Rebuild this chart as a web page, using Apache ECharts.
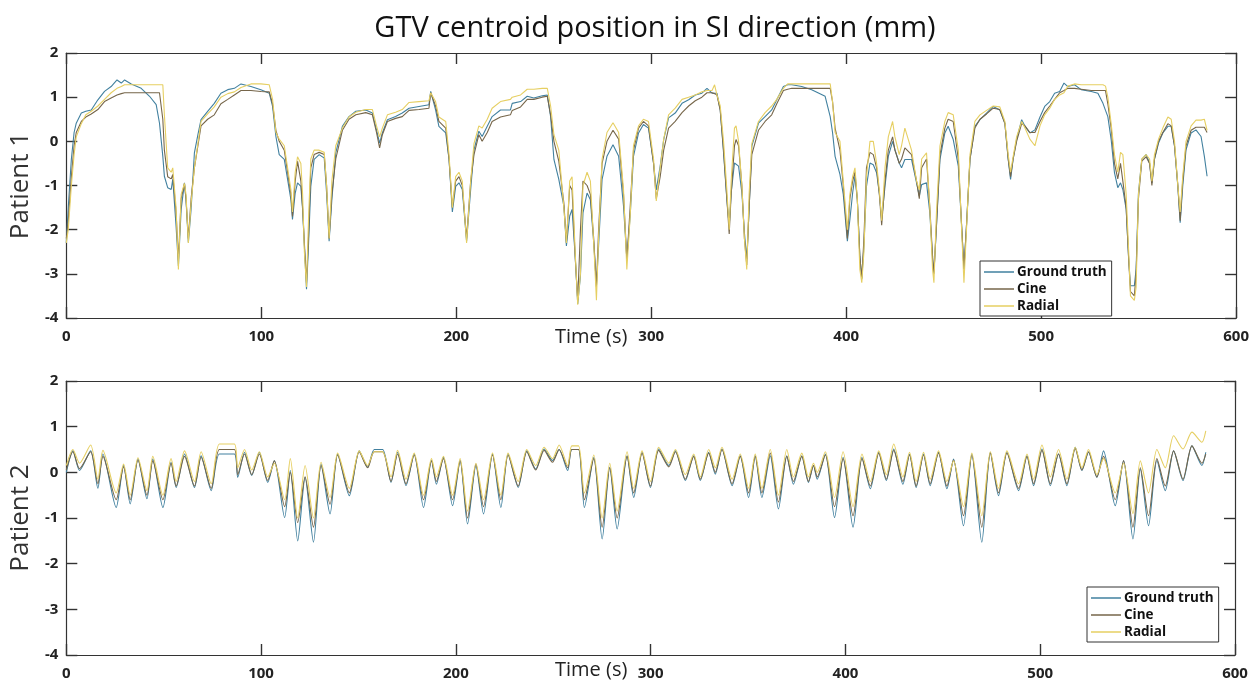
<!DOCTYPE html>
<html>
<head>
<meta charset="utf-8">
<script src="https://cdn.jsdelivr.net/npm/echarts@6/dist/echarts.min.js"></script>
<style>
  html, body { margin: 0; padding: 0; background: #fff; }
  #chart { width: 1252px; height: 683px; }
</style>
</head>
<body>
<div id="chart"></div>
<script>
// Patient 1 (s, mm)
const p1Time = [
  0, 1, 2.6, 4, 5.1, 7.7, 10, 12.8, 16.2, 19.6,
  23, 26, 28.2, 29.9, 33.3, 38.4, 42.7, 46.1, 47.8, 49.5,
  50.3, 52, 53.8, 54.6, 56.3, 57.5, 58.9, 60.6, 61.4, 62.6,
  64, 65.7, 67.5, 69.1, 72.5, 75.9, 79.3, 82.8, 86.2, 89.6,
  94.7, 99.8, 104.1, 105.8, 107.5, 109.2, 111.8, 113.5, 115.2, 116,
  117.4, 118.6, 120.3, 121.2, 122.1, 123.2, 124.2, 125.4, 127.1, 129.7,
  132.3, 133.5, 134.8, 136.2, 138.2, 141.6, 145, 148.5, 153.6, 157,
  159.1, 160.7, 162.1, 164.7, 168.9, 172.3, 175.8, 180.9, 186, 186.9,
  189.4, 191.1, 194.6, 196.3, 198, 199.7, 201.4, 203.1, 205.3, 207.4,
  209.1, 211.6, 213.3, 215.9, 218.4, 222.7, 227.8, 228.7, 233, 236.4,
  239.8, 244.1, 246.7, 248.4, 250.1, 252.6, 255.2, 256.5, 258.2, 259.4,
  261.1, 262.3, 263.7, 265, 267.1, 268.8, 270.5, 271.9, 273, 274.8,
  277.3, 280.4, 283.3, 285.8, 287.5, 289.2, 290.9, 293.5, 296, 298.6,
  301.2, 302.6, 304.6, 306.4, 308.9, 312.3, 315.8, 319.2, 322.6, 326,
  328.6, 331.2, 332.5, 333.7, 335.4, 337.1, 338.8, 340, 341, 342.7,
  343.5, 344.8, 346.5, 347.8, 349, 350.2, 351.6, 355, 358.4, 361.8,
  364.4, 367.8, 370, 372.1, 377.2, 382.3, 389.2, 391.8, 393, 394.3,
  396.8, 398.5, 400.6, 401.9, 403.3, 404.5, 405.7, 407, 408, 409.1,
  410.4, 412.2, 413.9, 415.6, 417, 418.2, 419.9, 421.6, 423.8, 425,
  427.2, 428.4, 430.1, 433.5, 436.1, 437.5, 438.7, 441.2, 442.9, 444.3,
  445, 446.3, 448.1, 450.6, 452.3, 454.9, 457.5, 459.2, 460.4, 461.7,
  463.5, 466, 468.6, 472, 475.4, 478.8, 481.4, 483.1, 484.3, 485.6,
  487.4, 490, 491.7, 494.2, 496.8, 499.4, 501.8, 504.4, 506.9, 509.5,
  511.7, 513.7, 517.1, 520.5, 525.7, 529.1, 531.7, 533, 534.2, 535.9,
  537.6, 539.3, 540.7, 541.9, 543.6, 544.9, 545.8, 547.8, 548.7, 549.9,
  551.6, 553.8, 555.6, 556.8, 558.1, 560.2, 562.4, 565, 566.7, 568.4,
  570.1, 571.3, 572.6, 574.3, 576.9, 579.4, 582, 583.7, 585.1
];
const p1Truth = [
  -2.3, -1.5, -0.4, 0.2, 0.41, 0.64, 0.68, 0.71, 0.94, 1.13,
  1.24, 1.39, 1.32, 1.39, 1.3, 1.2, 1.02, 0.83, 0.41, -0.34,
  -0.79, -1.05, -1.09, -0.86, -1.92, -2.82, -1.54, -0.94, -1.32, -2.29,
  -1.54, -0.26, 0.15, 0.49, 0.68, 0.86, 1.09, 1.17, 1.2, 1.3,
  1.24, 1.17, 1.09, 0.79, 0.11, -0.3, -0.41, -0.86, -1.32, -1.77,
  -1.17, -0.94, -1.02, -1.54, -2.37, -3.35, -2.37, -1.02, -0.41, -0.3,
  -0.38, -1.17, -2.26, -1.32, -0.26, 0.34, 0.56, 0.68, 0.71, 0.64,
  0.26, -0.04, 0.19, 0.49, 0.56, 0.64, 0.75, 0.79, 0.83, 1.13,
  0.71, 0.34, 0.19, -0.41, -1.6, -1.02, -0.94, -1.09, -2.26, -1.09,
  -0.19, 0.23, 0.11, 0.34, 0.56, 0.71, 0.71, 0.86, 0.9, 1.02,
  0.98, 1.03, 1.05, 0.56, -0.41, -0.86, -1.47, -2.37, -1.69, -1.54,
  -2.67, -3.68, -3.05, -1.62, -1.17, -1.32, -2.29, -3.27, -2.37, -0.86,
  -0.34, -0.08, -0.34, -1.47, -2.67, -1.69, -0.34, 0.19, 0.38, 0.3,
  -0.49, -1.1, -0.56, 0.04, 0.53, 0.64, 0.86, 0.94, 1.05, 1.09,
  1.2, 1.09, 1.09, 1.09, 0.71, -0.26, -1.32, -1.92, -1.17, -0.49,
  -0.5, -0.56, -1.17, -2.07, -2.67, -1.54, -0.11, 0.41, 0.56, 0.71,
  0.94, 1.24, 1.28, 1.28, 1.24, 1.17, 1.02, 0.56, 0.2, -0.34,
  -0.75, -1.2, -2.26, -1.77, -1.17, -0.79, -1.32, -2.59, -3.12, -2.37,
  -1.02, -0.49, -0.53, -0.71, -1.17, -1.77, -1.02, -0.34, 0.0, -0.19,
  -0.49, -0.6, -0.41, -0.41, -0.94, -1.24, -0.98, -0.94, -1.62, -2.67,
  -2.97, -1.92, -0.41, 0.19, 0.34, 0.04, -0.56, -1.92, -2.89, -1.92,
  -0.41, 0.34, 0.49, 0.64, 0.79, 0.71, 0.41, -0.41, -0.86, -0.41,
  0.04, 0.49, 0.34, 0.19, 0.26, 0.55, 0.79, 0.9, 1.09, 1.13,
  1.32, 1.24, 1.28, 1.17, 1.13, 1.09, 0.86, 0.7, 0.56, 0.04,
  -0.71, -1.05, -0.94, -1.09, -1.54, -2.67, -3.27, -3.27, -2.89, -1.17,
  -0.41, -0.3, -0.49, -0.94, -0.41, -0.04, 0.19, 0.34, 0.34, -0.11,
  -1.02, -1.84, -1.02, -0.19, 0.19, 0.26, 0.11, -0.34, -0.79
];
const p1Cine = [
  -2.2, -1.8, -0.8, -0.1, 0.2, 0.45, 0.55, 0.62, 0.72, 0.9,
  0.98, 1.05, 1.08, 1.1, 1.1, 1.1, 1.1, 1.1, 1.1, 0.5,
  -0.2, -0.8, -0.85, -0.75, -1.6, -2.7, -1.3, -0.95, -1.3, -2.2,
  -1.3, -0.6, -0.1, 0.35, 0.5, 0.6, 0.85, 0.95, 1.05, 1.15,
  1.15, 1.13, 1.12, 0.85, 0.25, 0.0, -0.2, -0.7, -1.2, -1.7,
  -0.9, -0.45, -0.9, -1.5, -2.3, -3.2, -2.2, -0.6, -0.3, -0.25,
  -0.3, -1.0, -2.2, -1.2, -0.4, 0.25, 0.5, 0.6, 0.65, 0.6,
  0.2, -0.15, 0.15, 0.45, 0.52, 0.56, 0.7, 0.72, 0.75, 1.1,
  0.8, 0.45, 0.3, -0.4, -1.5, -0.9, -0.8, -1.0, -2.2, -0.9,
  -0.3, 0.15, 0.0, 0.2, 0.45, 0.55, 0.6, 0.7, 0.78, 0.95,
  0.95, 1.0, 1.02, 0.6, 0.0, -0.45, -1.4, -2.3, -1.0, -1.1,
  -2.7, -3.6, -2.0, -0.9, -1.0, -1.2, -2.2, -3.3, -2.0, -0.5,
  0.0, 0.25, 0.05, -1.2, -2.7, -1.5, -0.2, 0.3, 0.45, 0.35,
  -0.5, -1.3, -0.8, -0.2, 0.3, 0.45, 0.65, 0.8, 0.92, 1.0,
  1.1, 1.1, 1.08, 1.05, 0.7, -0.2, -1.3, -2.1, -1.2, -0.1,
  0.04, -0.1, -1.0, -2.2, -2.8, -1.5, -0.3, 0.25, 0.45, 0.6,
  0.85, 1.15, 1.18, 1.2, 1.2, 1.2, 1.2, 1.2, 0.9, 0.3,
  -0.2, -1.0, -2.2, -1.3, -0.9, -0.7, -1.3, -2.6, -3.1, -2.2,
  -0.6, -0.25, -0.3, -0.6, -1.2, -1.9, -0.9, -0.2, 0.1, -0.2,
  -0.5, -0.4, -0.15, -0.3, -0.9, -1.3, -0.6, -0.4, -1.5, -2.6,
  -3.0, -1.9, -0.3, 0.3, 0.5, 0.45, -0.4, -1.9, -2.9, -1.9,
  -0.4, 0.3, 0.5, 0.62, 0.75, 0.72, 0.4, -0.4, -0.8, -0.4,
  0.0, 0.4, 0.35, 0.2, 0.2, 0.45, 0.65, 0.8, 0.95, 1.1,
  1.15, 1.2, 1.2, 1.18, 1.15, 1.15, 1.15, 1.15, 0.85, 0.3,
  -0.5, -0.85, -0.5, -0.9, -1.5, -2.7, -3.4, -3.5, -3.0, -1.3,
  -0.45, -0.35, -0.5, -1.0, -0.4, 0.0, 0.2, 0.4, 0.35, -0.1,
  -1.0, -1.8, -0.9, -0.1, 0.25, 0.32, 0.32, 0.32, 0.2
];
const p1Radial = [
  -2.3, -2.0, -1.0, -0.3, 0.1, 0.4, 0.6, 0.68, 0.8, 0.95,
  1.1, 1.2, 1.24, 1.28, 1.28, 1.28, 1.28, 1.28, 1.28, 1.28,
  0.6, -0.6, -0.7, -0.6, -1.5, -2.9, -1.2, -0.95, -1.2, -2.3,
  -1.4, -0.6, -0.05, 0.45, 0.62, 0.78, 1.0, 1.08, 1.12, 1.22,
  1.3, 1.3, 1.28, 0.95, 0.2, 0.05, -0.1, -0.6, -1.1, -1.6,
  -0.7, -0.35, -0.5, -1.2, -2.5, -3.3, -1.8, -0.4, -0.2, -0.2,
  -0.25, -1.0, -2.2, -0.9, -0.1, 0.3, 0.55, 0.66, 0.72, 0.72,
  0.35, 0.1, 0.3, 0.6, 0.66, 0.72, 0.88, 0.9, 0.92, 1.1,
  0.9, 0.55, 0.45, -0.3, -1.5, -0.8, -0.7, -0.9, -2.3, -0.9,
  -0.05, 0.35, 0.3, 0.5, 0.75, 0.9, 0.95, 1.0, 1.05, 1.18,
  1.18, 1.2, 1.2, 0.8, 0.15, -0.2, -1.5, -2.3, -0.9, -0.8,
  -2.6, -3.7, -3.0, -1.0, -0.7, -0.9, -2.3, -3.6, -2.2, -0.4,
  0.2, 0.42, 0.2, -1.1, -2.9, -1.7, -0.1, 0.35, 0.5, 0.45,
  -0.4, -1.35, -0.6, 0.05, 0.6, 0.75, 0.95, 1.0, 1.05, 1.12,
  1.15, 1.15, 1.28, 1.05, 0.8, 0.0, -1.1, -2.0, -0.9, 0.3,
  0.35, 0.0, -1.0, -2.2, -2.9, -1.2, -0.05, 0.45, 0.65, 0.8,
  0.95, 1.2, 1.3, 1.3, 1.3, 1.3, 1.3, 1.3, 0.9, 0.2,
  0.0, -0.9, -2.0, -1.2, -0.8, -0.6, -1.3, -2.9, -3.2, -2.5,
  -0.8, 0.0, 0.0, -0.5, -1.1, -1.8, -0.6, 0.1, 0.45, 0.1,
  -0.3, -0.1, 0.3, -0.2, -0.9, -1.1, -0.4, -0.26, -1.5, -2.9,
  -3.2, -1.6, -0.1, 0.45, 0.65, 0.6, -0.2, -2.0, -3.2, -2.0,
  -0.3, 0.45, 0.6, 0.7, 0.8, 0.78, 0.45, -0.3, -0.7, -0.35,
  0.1, 0.45, 0.3, 0.05, -0.1, 0.35, 0.6, 0.75, 0.95, 1.05,
  1.1, 1.25, 1.3, 1.28, 1.28, 1.28, 1.28, 1.25, 1.0, 0.4,
  -0.3, -0.7, -0.25, -0.3, -1.2, -2.5, -3.5, -3.6, -3.3, -1.2,
  -0.4, -0.3, -0.4, -0.9, -0.3, 0.05, 0.3, 0.55, 0.5, 0.0,
  -1.0, -1.6, -0.8, 0.0, 0.35, 0.48, 0.48, 0.5, 0.25
];

// Patient 2 (s, mm)
const p2Time = [
  0, 3.4, 6.8, 12.5, 16.2, 18.8, 25.6, 29.4, 32.8, 36.8,
  41.4, 44.4, 49.6, 53.8, 56.4, 60.7, 65.8, 69.2, 74.4, 78.6,
  86.3, 88, 91.5, 95.2, 99.1, 103.4, 106.8, 112.1, 115, 118.8,
  122.6, 126.9, 130.8, 135.4, 139.3, 145.3, 150.4, 154.7, 158.1, 162.4,
  166.7, 170.1, 174.4, 178.6, 183.4, 187.5, 190, 193.6, 198.3, 202.2,
  206, 210.3, 214.2, 218.8, 223.1, 226.8, 232, 236.4, 241, 245.3,
  249.6, 253, 257.4, 259.5, 263, 266, 270.8, 275.1, 279, 282.8,
  287.9, 291.3, 295.6, 299.9, 304.1, 309.3, 312.7, 317.8, 322.1, 325.5,
  329.8, 333.2, 336.6, 341.8, 346, 350.3, 353.7, 357.1, 361.4, 365.6,
  369.9, 373.3, 377.6, 381, 383.6, 385.5, 389.7, 394.4, 398.8, 403.9,
  408.5, 412.8, 417.1, 421, 424.8, 429.5, 432.9, 436.3, 440.1, 443.5,
  447.8, 452.1, 455.5, 460.6, 464.9, 470, 474.4, 478.6, 482.9, 488.9,
  493.2, 496.6, 500.9, 505.2, 509.4, 513.7, 518, 521.4, 524.8, 529.1,
  532.5, 538.5, 542.8, 547.6, 551.4, 555.6, 559.9, 564.2, 568.5, 573.3,
  577.9, 583, 585
];
const p2Truth = [
  0.0, 0.47, 0.04, 0.47, -0.35, 0.4, -0.77, 0.15, -0.69, 0.29,
  -0.58, 0.29, -0.77, 0.22, -0.33, 0.4, -0.33, 0.36, -0.4, 0.4,
  0.4, -0.11, 0.44, -0.07, 0.44, -0.22, 0.26, -0.99, 0.04, -1.5,
  -0.11, -1.53, 0.18, -0.91, 0.4, -0.51, 0.47, 0.11, 0.5, 0.5,
  -0.22, 0.44, -0.29, 0.4, -0.77, 0.26, -0.26, 0.33, -0.73, 0.26,
  -1.13, 0.15, -0.91, 0.4, -0.77, 0.4, -0.33, 0.47, 0.07, 0.51,
  0.26, 0.5, 0.04, 0.5, 0.5, -0.77, 0.33, -1.46, 0.11, -1.24,
  0.36, -0.55, 0.44, -0.33, 0.51, 0.15, 0.47, -0.18, 0.36, -0.18,
  0.44, -0.04, 0.51, -0.29, 0.36, -0.55, 0.36, -0.55, 0.36, -0.8,
  0.36, -0.26, 0.36, -0.22, 0.15, -0.15, 0.4, -0.99, 0.33, -1.2,
  0.33, -0.36, 0.44, -0.18, 0.51, -0.26, 0.4, -0.33, 0.4, -0.29,
  0.44, -0.36, 0.29, -1.17, 0.4, -1.53, 0.44, -0.51, 0.44, -0.4,
  0.36, -0.29, 0.51, -0.29, 0.4, -0.29, 0.55, 0.04, 0.44, -0.11,
  0.47, -0.73, 0.26, -1.46, 0.07, -1.17, 0.26, -0.4, 0.47, -0.18,
  0.58, 0.15, 0.44
];
const p2Cine = [
  0.05, 0.45, 0.08, 0.45, -0.25, 0.35, -0.6, 0.12, -0.6, 0.27,
  -0.5, 0.25, -0.6, 0.2, -0.3, 0.35, -0.3, 0.33, -0.35, 0.5,
  0.5, -0.05, 0.4, -0.05, 0.4, -0.18, 0.25, -0.75, 0.0, -1.1,
  -0.1, -1.2, 0.15, -0.7, 0.38, -0.45, 0.45, 0.1, 0.45, 0.45,
  -0.2, 0.4, -0.25, 0.38, -0.6, 0.25, -0.2, 0.3, -0.6, 0.25,
  -1.0, 0.18, -0.75, 0.38, -0.6, 0.38, -0.3, 0.45, 0.05, 0.48,
  0.22, 0.5, 0.1, 0.5, 0.5, -0.6, 0.3, -1.2, 0.1, -1.0,
  0.35, -0.45, 0.42, -0.3, 0.48, 0.12, 0.45, -0.15, 0.35, -0.15,
  0.42, 0.0, 0.5, -0.25, 0.35, -0.45, 0.35, -0.45, 0.42, -0.65,
  0.35, -0.2, 0.35, -0.2, 0.15, -0.1, 0.38, -0.75, 0.3, -0.95,
  0.3, -0.3, 0.42, -0.15, 0.48, -0.2, 0.38, -0.3, 0.38, -0.25,
  0.42, -0.3, 0.27, -0.95, 0.38, -1.2, 0.42, -0.45, 0.42, -0.35,
  0.35, -0.25, 0.48, -0.25, 0.4, -0.25, 0.52, 0.05, 0.45, -0.1,
  0.35, -0.6, 0.25, -1.2, 0.1, -0.95, 0.3, -0.3, 0.47, -0.15,
  0.58, 0.2, 0.4
];
const p2Radial = [
  0.15, 0.5, 0.2, 0.6, -0.15, 0.48, -0.45, 0.18, -0.5, 0.32,
  -0.4, 0.35, -0.5, 0.3, -0.2, 0.47, -0.2, 0.45, -0.25, 0.62,
  0.62, 0.1, 0.5, 0.05, 0.45, -0.1, 0.2, -0.6, 0.3, -1.0,
  0.15, -1.0, 0.22, -0.55, 0.42, -0.35, 0.47, 0.15, 0.45, 0.45,
  -0.1, 0.48, -0.15, 0.42, -0.5, 0.3, -0.1, 0.35, -0.5, 0.3,
  -0.85, 0.2, -0.6, 0.42, -0.5, 0.42, -0.2, 0.5, 0.15, 0.55,
  0.3, 0.6, 0.15, 0.58, 0.58, -0.45, 0.38, -1.0, 0.2, -0.85,
  0.45, -0.35, 0.47, -0.2, 0.55, 0.2, 0.5, -0.05, 0.4, -0.1,
  0.5, 0.1, 0.55, -0.15, 0.4, -0.35, 0.4, -0.35, 0.5, -0.5,
  0.5, -0.1, 0.42, -0.1, 0.2, 0.0, 0.45, -0.55, 0.45, -0.75,
  0.4, -0.2, 0.47, -0.05, 0.62, -0.1, 0.44, -0.2, 0.44, -0.15,
  0.47, -0.2, 0.25, -0.75, 0.42, -0.95, 0.45, -0.35, 0.47, -0.25,
  0.4, -0.15, 0.6, -0.1, 0.5, -0.15, 0.55, 0.1, 0.5, -0.05,
  0.3, -0.45, 0.2, -0.9, 0.25, -0.45, 0.5, 0.1, 0.8, 0.51,
  0.88, 0.66, 0.91
];

const seriesNames = ['Ground truth', 'Cine', 'Radial'];
const seriesColors = ['#41809f', '#76664a', '#e6cf62'];
const xTicks = [0, 100, 200, 300, 400, 500, 600];
const yTicks = [-4, -3, -2, -1, 0, 1, 2];

const pair = (t, v) => t.map((x, i) => [x, v[i]]);

// fresh objects for every axis so nothing is shared between them
const labelStyle = () => ({ color: '#222', fontSize: 15, fontWeight: 'bold', fontFamily: 'Open Sans' });
const axisLine = () => ({ show: true, onZero: false, lineStyle: { color: '#333', width: 1.2 } });
const tickIn = () => ({ show: true, inside: true, length: 11, lineStyle: { color: '#333', width: 1.4 } });

function xAxis(gridIndex, position) {
  return {
    type: 'value', gridIndex, position,
    min: xTicks[0], max: xTicks[xTicks.length - 1], interval: 100,
    splitLine: { show: false },
    axisLine: axisLine(),
    axisTick: tickIn(),
    axisLabel: position === 'bottom' ? Object.assign({ margin: 11 }, labelStyle()) : { show: false }
  };
}

function yAxis(gridIndex, position, name) {
  const ax = {
    type: 'value', gridIndex, position,
    min: yTicks[0], max: yTicks[yTicks.length - 1], interval: 1,
    splitLine: { show: false },
    axisLine: axisLine(),
    axisTick: tickIn(),
    axisLabel: position === 'left' ? Object.assign({ margin: 8 }, labelStyle()) : { show: false }
  };
  if (name) {
    ax.name = name;
    ax.nameLocation = 'middle';
    ax.nameGap = 30;
    ax.nameTextStyle = { fontSize: 26, color: '#333', fontFamily: 'Open Sans' };
  }
  return ax;
}

function lines(time, values, axisIdx, smooth) {
  return values.map((v, i) => ({
    name: seriesNames[i],
    type: 'line',
    xAxisIndex: axisIdx,
    yAxisIndex: axisIdx,
    data: pair(time, v),
    showSymbol: false,
    symbol: 'none',
    smooth,
    lineStyle: { width: 1.1, color: seriesColors[i] },
    itemStyle: { color: seriesColors[i] }
  }));
}

function legendBox(left, top) {
  return {
    left, top,
    orient: 'vertical',
    data: seriesNames,
    icon: 'rect',
    itemWidth: 30,
    itemHeight: 1.5,
    itemGap: 3,
    padding: [4, 5, 3, 4],
    borderColor: '#333',
    borderWidth: 1,
    backgroundColor: '#fff',
    selectedMode: false,
    textStyle: { fontSize: 13.5, fontWeight: 'bold', color: '#111', fontFamily: 'Open Sans', padding: [0, 0, 0, -2] }
  };
}

const chart = echarts.init(document.getElementById('chart'));
chart.setOption({
  animation: false,
  backgroundColor: '#fff',
  color: seriesColors,
  title: {
    text: 'GTV centroid position in SI direction (mm)',
    left: 650, top: 9, textAlign: 'center',
    textStyle: { fontSize: 29, fontWeight: 'normal', color: '#111', fontFamily: 'Open Sans' }
  },
  grid: [
    { left: 65, top: 53, right: 15, height: 265 },
    { left: 65, top: 381, right: 17, height: 274 }
  ],
  xAxis: [xAxis(0, 'bottom'), xAxis(0, 'top'), xAxis(1, 'bottom'), xAxis(1, 'top')],
  yAxis: [yAxis(0, 'left', 'Patient 1'), yAxis(0, 'right'), yAxis(1, 'left', 'Patient 2'), yAxis(1, 'right')],
  legend: [legendBox(980, 261), legendBox(1087, 587)],
  graphic: [
    { type: 'text', left: 555, top: 327, style: { text: 'Time (s)', fontSize: 20, fill: '#222', fontFamily: 'Open Sans' } },
    { type: 'text', left: 555, top: 660, style: { text: 'Time (s)', fontSize: 20, fill: '#222', fontFamily: 'Open Sans' } }
  ],
  series: [
    ...lines(p1Time, [p1Truth, p1Cine, p1Radial], 0, false),
    ...lines(p2Time, [p2Truth, p2Cine, p2Radial], 2, 0.25)
  ]
});
</script>
</body>
</html>
